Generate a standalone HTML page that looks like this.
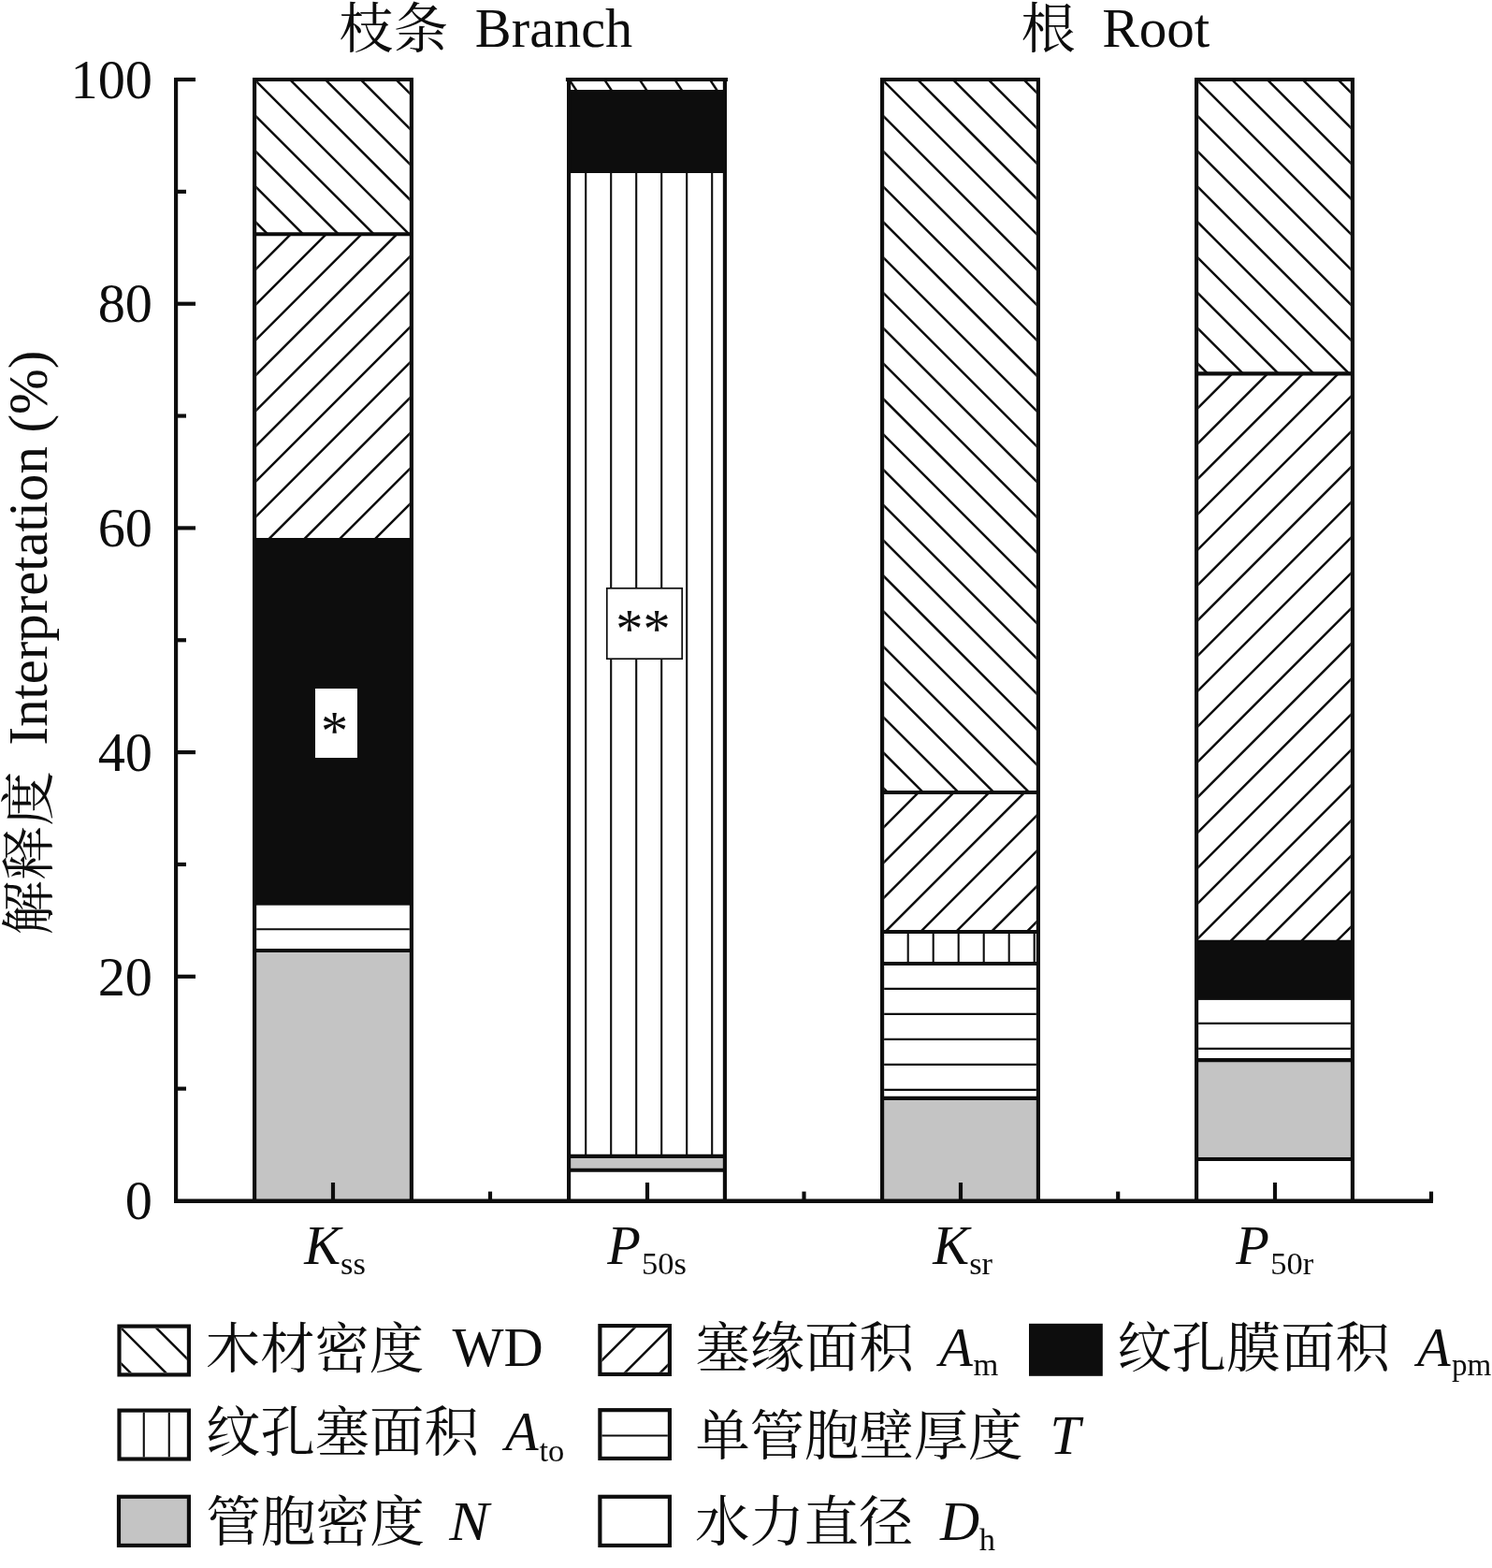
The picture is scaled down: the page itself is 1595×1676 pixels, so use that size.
<!DOCTYPE html>
<html lang="zh"><head><meta charset="utf-8"><title>Interpretation chart</title>
<style>
html,body{margin:0;padding:0;background:#fff;}
body{width:1595px;height:1676px;overflow:hidden;}
svg{display:block;will-change:transform;}
svg text{font-family:"Liberation Serif","Noto Serif CJK SC",serif;fill:#0d0d0d;white-space:pre;}
</style></head><body>
<svg width="1595" height="1676" viewBox="0 0 1595 1676">
<defs>
<clipPath id="c1"><rect x="274.17" y="85" width="163.66" height="165.25"/></clipPath>
<clipPath id="c2"><rect x="274.17" y="250.25" width="163.66" height="326.75"/></clipPath>
<clipPath id="c3"><rect x="274.17" y="967.6" width="163.66" height="48.4"/></clipPath>
<clipPath id="c4"><rect x="610.17" y="185" width="162.66" height="1050.8"/></clipPath>
<clipPath id="c5"><rect x="945.17" y="85" width="162.66" height="762"/></clipPath>
<clipPath id="c6"><rect x="945.17" y="847" width="162.66" height="149"/></clipPath>
<clipPath id="c7"><rect x="945.17" y="996" width="162.66" height="34"/></clipPath>
<clipPath id="c8"><rect x="945.17" y="1030" width="162.66" height="143.8"/></clipPath>
<clipPath id="c9"><rect x="1281.17" y="85" width="162.66" height="314.3"/></clipPath>
<clipPath id="c10"><rect x="1281.17" y="399.3" width="162.66" height="606.7"/></clipPath>
<clipPath id="c11"><rect x="1281.17" y="1068.9" width="162.66" height="64.2"/></clipPath>
<clipPath id="c12"><rect x="129.57" y="1419.67" width="70.26" height="47.66"/></clipPath>
<clipPath id="c13"><rect x="643.47" y="1419.17" width="70.36" height="47.66"/></clipPath>
<clipPath id="c14"><rect x="129.57" y="1509.67" width="70.26" height="47.76"/></clipPath>
<clipPath id="c15"><rect x="643.47" y="1509.27" width="70.36" height="47.56"/></clipPath>
</defs>
<rect width="1595" height="1676" fill="#fff"/>
<path clip-path="url(#c1)" d="M77.09 79L254.34 256.25M114.89 79L292.14 256.25M152.69 79L329.94 256.25M190.49 79L367.74 256.25M228.29 79L405.54 256.25M266.09 79L443.34 256.25M303.89 79L481.14 256.25M341.69 79L518.94 256.25M379.49 79L556.74 256.25M417.29 79L594.54 256.25M455.09 79L632.34 256.25" stroke="#0d0d0d" stroke-width="2.5" fill="none"/>
<path clip-path="url(#c2)" d="M279.15 244.25L-59.6 583M316.95 244.25L-21.8 583M354.75 244.25L16 583M392.55 244.25L53.8 583M430.35 244.25L91.6 583M468.15 244.25L129.4 583M505.95 244.25L167.2 583M543.75 244.25L205 583M581.55 244.25L242.8 583M619.35 244.25L280.6 583M657.15 244.25L318.4 583M694.95 244.25L356.2 583M732.75 244.25L394 583M770.55 244.25L431.8 583M808.35 244.25L469.6 583" stroke="#0d0d0d" stroke-width="2.5" fill="none"/>
<rect x="270" y="575" width="172" height="392.6" fill="#0d0d0d"/>
<path clip-path="url(#c3)" d="M272.17 966.2L439.83 966.2M272.17 993.2L439.83 993.2M272.17 1020.2L439.83 1020.2" stroke="#0d0d0d" stroke-width="2.1" fill="none"/>
<rect x="273.17" y="1016" width="165.66" height="267.5" fill="#c4c4c4"/>
<path d="M272.08 1283.5L272.08 85L439.92 85L439.92 1283.5" stroke="#0d0d0d" stroke-width="4.17" fill="none" stroke-linejoin="miter"/>
<path d="M270 250.25L442 250.25" stroke="#0d0d0d" stroke-width="4.17" stroke-linecap="butt" fill="none"/>
<path d="M270 1016L442 1016" stroke="#0d0d0d" stroke-width="4.17" stroke-linecap="butt" fill="none"/>
<rect x="337" y="736" width="45" height="74" fill="#fff"/>
<path d="M608.87 85.6L616.67 97.4" stroke="#0d0d0d" stroke-width="2.5" stroke-linecap="butt" fill="none"/>
<path d="M646.47 85.6L654.27 97.4" stroke="#0d0d0d" stroke-width="2.5" stroke-linecap="butt" fill="none"/>
<path d="M684.07 85.6L691.87 97.4" stroke="#0d0d0d" stroke-width="2.5" stroke-linecap="butt" fill="none"/>
<path d="M721.67 85.6L729.47 97.4" stroke="#0d0d0d" stroke-width="2.5" stroke-linecap="butt" fill="none"/>
<path d="M759.27 85.6L767.07 97.4" stroke="#0d0d0d" stroke-width="2.5" stroke-linecap="butt" fill="none"/>
<rect x="606" y="96" width="171" height="89" fill="#0d0d0d"/>
<path clip-path="url(#c4)" d="M599.2 183L599.2 1237.8M626.2 183L626.2 1237.8M653.2 183L653.2 1237.8M680.2 183L680.2 1237.8M707.2 183L707.2 1237.8M734.2 183L734.2 1237.8M761.2 183L761.2 1237.8M788.2 183L788.2 1237.8" stroke="#0d0d0d" stroke-width="2.1" fill="none"/>
<rect x="609.17" y="1235.8" width="164.66" height="14.95" fill="#c4c4c4"/>
<path d="M608.09 1283.5L608.09 85L774.91 85L774.91 1283.5" stroke="#0d0d0d" stroke-width="4.17" fill="none" stroke-linejoin="miter"/>
<path d="M606 1235.8L777 1235.8" stroke="#0d0d0d" stroke-width="4.17" stroke-linecap="butt" fill="none"/>
<path d="M606 1250.75L777 1250.75" stroke="#0d0d0d" stroke-width="4.17" stroke-linecap="butt" fill="none"/>
<path d="M604.9 85L778 85" stroke="#0d0d0d" stroke-width="4.17" stroke-linecap="butt" fill="none"/>
<rect x="648.8" y="628.8" width="80.4" height="75.4" fill="#fff" stroke="#0d0d0d" stroke-width="1.7"/>
<path clip-path="url(#c5)" d="M143.28 79L917.28 853M181.08 79L955.08 853M218.88 79L992.88 853M256.68 79L1030.68 853M294.49 79L1068.49 853M332.28 79L1106.28 853M370.08 79L1144.09 853M407.88 79L1181.88 853M445.68 79L1219.68 853M483.48 79L1257.48 853M521.28 79L1295.28 853M559.08 79L1333.09 853M596.88 79L1370.88 853M634.68 79L1408.68 853M672.48 79L1446.48 853M710.28 79L1484.28 853M748.08 79L1522.09 853M785.88 79L1559.88 853M823.68 79L1597.68 853M861.48 79L1635.48 853M899.28 79L1673.28 853M937.08 79L1711.09 853M974.88 79L1748.88 853M1012.68 79L1786.68 853M1050.48 79L1824.48 853M1088.28 79L1862.28 853M1126.09 79L1900.09 853" stroke="#0d0d0d" stroke-width="2.5" fill="none"/>
<path clip-path="url(#c6)" d="M950.1 841L789.1 1002M987.9 841L826.9 1002M1025.7 841L864.7 1002M1063.5 841L902.5 1002M1101.3 841L940.3 1002M1139.1 841L978.1 1002M1176.9 841L1015.9 1002M1214.7 841L1053.7 1002M1252.5 841L1091.5 1002M1290.3 841L1129.3 1002" stroke="#0d0d0d" stroke-width="2.5" fill="none"/>
<path clip-path="url(#c7)" d="M943.7 994L943.7 1032M970.7 994L970.7 1032M997.7 994L997.7 1032M1024.7 994L1024.7 1032M1051.7 994L1051.7 1032M1078.7 994L1078.7 1032M1105.7 994L1105.7 1032M1132.7 994L1132.7 1032" stroke="#0d0d0d" stroke-width="2.1" fill="none"/>
<path clip-path="url(#c8)" d="M943.17 1029.9L1109.83 1029.9M943.17 1056.9L1109.83 1056.9M943.17 1083.9L1109.83 1083.9M943.17 1110.9L1109.83 1110.9M943.17 1137.9L1109.83 1137.9M943.17 1164.9L1109.83 1164.9M943.17 1191.9L1109.83 1191.9" stroke="#0d0d0d" stroke-width="2.1" fill="none"/>
<rect x="944.17" y="1173.8" width="164.66" height="109.7" fill="#c4c4c4"/>
<path d="M943.09 1283.5L943.09 85L1109.91 85L1109.91 1283.5" stroke="#0d0d0d" stroke-width="4.17" fill="none" stroke-linejoin="miter"/>
<path d="M941 847L1112 847" stroke="#0d0d0d" stroke-width="4.17" stroke-linecap="butt" fill="none"/>
<path d="M941 996L1112 996" stroke="#0d0d0d" stroke-width="4.17" stroke-linecap="butt" fill="none"/>
<path d="M941 1030L1112 1030" stroke="#0d0d0d" stroke-width="4.17" stroke-linecap="butt" fill="none"/>
<path d="M941 1173.8L1112 1173.8" stroke="#0d0d0d" stroke-width="4.17" stroke-linecap="butt" fill="none"/>
<path clip-path="url(#c9)" d="M932.88 79L1259.18 405.3M970.69 79L1296.99 405.3M1008.49 79L1334.79 405.3M1046.29 79L1372.59 405.3M1084.09 79L1410.38 405.3M1121.88 79L1448.18 405.3M1159.68 79L1485.98 405.3M1197.49 79L1523.79 405.3M1235.29 79L1561.59 405.3M1273.09 79L1599.38 405.3M1310.88 79L1637.18 405.3M1348.68 79L1674.98 405.3M1386.49 79L1712.79 405.3M1424.29 79L1750.59 405.3M1462.09 79L1788.38 405.3" stroke="#0d0d0d" stroke-width="2.5" fill="none"/>
<path clip-path="url(#c10)" d="M1285.6 393.3L666.9 1012M1323.4 393.3L704.7 1012M1361.2 393.3L742.5 1012M1399 393.3L780.3 1012M1436.8 393.3L818.1 1012M1474.6 393.3L855.9 1012M1512.4 393.3L893.7 1012M1550.2 393.3L931.5 1012M1588 393.3L969.3 1012M1625.8 393.3L1007.1 1012M1663.6 393.3L1044.9 1012M1701.4 393.3L1082.7 1012M1739.2 393.3L1120.5 1012M1777 393.3L1158.3 1012M1814.8 393.3L1196.1 1012M1852.6 393.3L1233.9 1012M1890.4 393.3L1271.7 1012M1928.2 393.3L1309.5 1012M1966 393.3L1347.3 1012M2003.8 393.3L1385.1 1012M2041.6 393.3L1422.9 1012M2079.4 393.3L1460.7 1012" stroke="#0d0d0d" stroke-width="2.5" fill="none"/>
<rect x="1277" y="1004.75" width="171" height="64.15" fill="#0d0d0d"/>
<path clip-path="url(#c11)" d="M1279.17 1066.9L1445.83 1066.9M1279.17 1093.9L1445.83 1093.9M1279.17 1120.9L1445.83 1120.9M1279.17 1147.9L1445.83 1147.9" stroke="#0d0d0d" stroke-width="2.1" fill="none"/>
<rect x="1280.17" y="1133.1" width="164.66" height="105.9" fill="#c4c4c4"/>
<path d="M1279.09 1283.5L1279.09 85L1445.91 85L1445.91 1283.5" stroke="#0d0d0d" stroke-width="4.17" fill="none" stroke-linejoin="miter"/>
<path d="M1277 399.3L1448 399.3" stroke="#0d0d0d" stroke-width="4.17" stroke-linecap="butt" fill="none"/>
<path d="M1277 1133.1L1448 1133.1" stroke="#0d0d0d" stroke-width="4.17" stroke-linecap="butt" fill="none"/>
<path d="M1277 1239L1448 1239" stroke="#0d0d0d" stroke-width="4.17" stroke-linecap="butt" fill="none"/>
<path d="M188.1 82.92L188.1 1285.59" stroke="#0d0d0d" stroke-width="4.17" stroke-linecap="butt" fill="none"/>
<path d="M188.1 1163.65L199 1163.65" stroke="#0d0d0d" stroke-width="4.17" stroke-linecap="butt" fill="none"/>
<path d="M188.1 1043.8L209 1043.8" stroke="#0d0d0d" stroke-width="4.17" stroke-linecap="butt" fill="none"/>
<path d="M188.1 923.95L199 923.95" stroke="#0d0d0d" stroke-width="4.17" stroke-linecap="butt" fill="none"/>
<path d="M188.1 804.1L209 804.1" stroke="#0d0d0d" stroke-width="4.17" stroke-linecap="butt" fill="none"/>
<path d="M188.1 684.25L199 684.25" stroke="#0d0d0d" stroke-width="4.17" stroke-linecap="butt" fill="none"/>
<path d="M188.1 564.4L209 564.4" stroke="#0d0d0d" stroke-width="4.17" stroke-linecap="butt" fill="none"/>
<path d="M188.1 444.55L199 444.55" stroke="#0d0d0d" stroke-width="4.17" stroke-linecap="butt" fill="none"/>
<path d="M188.1 324.7L209 324.7" stroke="#0d0d0d" stroke-width="4.17" stroke-linecap="butt" fill="none"/>
<path d="M188.1 204.85L199 204.85" stroke="#0d0d0d" stroke-width="4.17" stroke-linecap="butt" fill="none"/>
<path d="M188.1 85L209 85" stroke="#0d0d0d" stroke-width="4.17" stroke-linecap="butt" fill="none"/>
<path d="M186.01 1283.7L1532 1283.7" stroke="#0d0d0d" stroke-width="4.57" stroke-linecap="butt" fill="none"/>
<path d="M356 1283.5L356 1264" stroke="#0d0d0d" stroke-width="4.17" stroke-linecap="butt" fill="none"/>
<path d="M692 1283.5L692 1264" stroke="#0d0d0d" stroke-width="4.17" stroke-linecap="butt" fill="none"/>
<path d="M1027 1283.5L1027 1264" stroke="#0d0d0d" stroke-width="4.17" stroke-linecap="butt" fill="none"/>
<path d="M1363 1283.5L1363 1264" stroke="#0d0d0d" stroke-width="4.17" stroke-linecap="butt" fill="none"/>
<path d="M524 1283.5L524 1273.6" stroke="#0d0d0d" stroke-width="4.17" stroke-linecap="butt" fill="none"/>
<path d="M859.5 1283.5L859.5 1273.6" stroke="#0d0d0d" stroke-width="4.17" stroke-linecap="butt" fill="none"/>
<path d="M1195.2 1283.5L1195.2 1273.6" stroke="#0d0d0d" stroke-width="4.17" stroke-linecap="butt" fill="none"/>
<path d="M1530 1283.5L1530 1273.6" stroke="#0d0d0d" stroke-width="4.17" stroke-linecap="butt" fill="none"/>
<path clip-path="url(#c12)" d="M47.97 1413.67L107.63 1473.33M85.77 1413.67L145.43 1473.33M123.57 1413.67L183.23 1473.33M161.37 1413.67L221.03 1473.33M199.17 1413.67L258.83 1473.33" stroke="#0d0d0d" stroke-width="2.5" fill="none"/>
<rect x="127.48" y="1417.59" width="74.43" height="51.83" fill="none" stroke="#0d0d0d" stroke-width="4.17"/>
<path clip-path="url(#c13)" d="M646.57 1413.17L586.91 1472.83M684.37 1413.17L624.71 1472.83M722.17 1413.17L662.51 1472.83M759.97 1413.17L700.31 1472.83M797.77 1413.17L738.11 1472.83" stroke="#0d0d0d" stroke-width="2.5" fill="none"/>
<rect x="641.38" y="1417.09" width="74.53" height="51.83" fill="none" stroke="#0d0d0d" stroke-width="4.17"/>
<rect x="1100" y="1414.8" width="78.8" height="56" fill="#0d0d0d"/>
<path clip-path="url(#c14)" d="M126.77 1507.67L126.77 1559.43M153.77 1507.67L153.77 1559.43M180.77 1507.67L180.77 1559.43M207.77 1507.67L207.77 1559.43" stroke="#0d0d0d" stroke-width="2.1" fill="none"/>
<rect x="127.48" y="1507.59" width="74.43" height="51.93" fill="none" stroke="#0d0d0d" stroke-width="4.17"/>
<path clip-path="url(#c15)" d="M641.47 1507.57L715.83 1507.57M641.47 1534.57L715.83 1534.57M641.47 1561.57L715.83 1561.57" stroke="#0d0d0d" stroke-width="2.1" fill="none"/>
<rect x="641.38" y="1507.18" width="74.53" height="51.73" fill="none" stroke="#0d0d0d" stroke-width="4.17"/>
<rect x="126.98" y="1599.79" width="74.93" height="52.13" fill="#c4c4c4"/>
<rect x="126.98" y="1599.79" width="74.93" height="52.13" fill="none" stroke="#0d0d0d" stroke-width="4.17"/>
<rect x="641.38" y="1599.79" width="74.53" height="52.13" fill="none" stroke="#0d0d0d" stroke-width="4.17"/>
<text x="362.3" y="51.4" text-anchor="start" style="font-size:58.33px;">枝条</text>
<text x="507.8" y="50" text-anchor="start" style="font-size:58.33px;">Branch</text>
<text x="1091.5" y="51.4" text-anchor="start" style="font-size:58.33px;">根</text>
<text transform="translate(1178.2 50) scale(1.015 1)" text-anchor="start" style="font-size:58.33px;">Root</text>
<text x="163" y="1303.2" text-anchor="end" style="font-size:58.33px;">0</text>
<text x="163" y="1063.5" text-anchor="end" style="font-size:58.33px;">20</text>
<text x="163" y="823.8" text-anchor="end" style="font-size:58.33px;">40</text>
<text x="163" y="584.1" text-anchor="end" style="font-size:58.33px;">60</text>
<text x="163" y="344.4" text-anchor="end" style="font-size:58.33px;">80</text>
<text x="163" y="104.7" text-anchor="end" style="font-size:58.33px;">100</text>
<text transform="translate(51.2 999.4) rotate(-90)" text-anchor="start" style="font-size:58.33px;">解释度</text>
<text transform="translate(50.4 796.4) rotate(-90) scale(1.0055 1)" text-anchor="start" style="font-size:58.33px;">Interpretation (%)</text>
<text x="325.3" y="1350.75" text-anchor="start" style="font-size:58.33px;font-style:italic;">K</text>
<text x="364" y="1362" text-anchor="start" style="font-size:34.5px;">ss</text>
<text x="649.2" y="1350.75" text-anchor="start" style="font-size:58.33px;font-style:italic;">P</text>
<text x="686" y="1362" text-anchor="start" style="font-size:34.5px;">50s</text>
<text x="997.2" y="1350.75" text-anchor="start" style="font-size:58.33px;font-style:italic;">K</text>
<text x="1036.2" y="1362" text-anchor="start" style="font-size:34.5px;">sr</text>
<text x="1321.2" y="1350.75" text-anchor="start" style="font-size:58.33px;font-style:italic;">P</text>
<text x="1358.2" y="1362" text-anchor="start" style="font-size:34.5px;">50r</text>
<text x="357.5" y="801" text-anchor="middle" style="font-size:58.33px;">*</text>
<text x="687.5" y="692" text-anchor="middle" style="font-size:58.33px;">**</text>
<text x="219.8" y="1461.6" text-anchor="start" style="font-size:58.33px;">木材密度</text>
<text x="483.5" y="1460.2" text-anchor="start" style="font-size:58.33px;">WD</text>
<text x="743.4" y="1461.2" text-anchor="start" style="font-size:58.33px;">塞缘面积</text>
<text x="1004.3" y="1459.7" text-anchor="start" style="font-size:58.33px;font-style:italic;">A</text>
<text x="1040.5" y="1470.2" text-anchor="start" style="font-size:34.5px;">m</text>
<text x="1194.2" y="1461.2" text-anchor="start" style="font-size:58.33px;">纹孔膜面积</text>
<text x="1515" y="1459.7" text-anchor="start" style="font-size:58.33px;font-style:italic;">A</text>
<text transform="translate(1551.9 1470) scale(0.96 1)" text-anchor="start" style="font-size:34.5px;">pm</text>
<text x="220.1" y="1551.3" text-anchor="start" style="font-size:58.33px;">纹孔塞面积</text>
<text x="539.9" y="1549.9" text-anchor="start" style="font-size:58.33px;font-style:italic;">A</text>
<text x="576.4" y="1561.7" text-anchor="start" style="font-size:34.5px;">to</text>
<text x="743.4" y="1555.4" text-anchor="start" style="font-size:58.33px;">单管胞壁厚度</text>
<text x="1122.5" y="1554" text-anchor="start" style="font-size:58.33px;font-style:italic;">T</text>
<text x="220.6" y="1647.4" text-anchor="start" style="font-size:58.33px;">管胞密度</text>
<text transform="translate(480.3 1646) scale(1.09 1)" text-anchor="start" style="font-size:58.33px;font-style:italic;">N</text>
<text x="743.1" y="1647.4" text-anchor="start" style="font-size:58.33px;">水力直径</text>
<text x="1005" y="1646" text-anchor="start" style="font-size:58.33px;font-style:italic;">D</text>
<text x="1046.7" y="1657.1" text-anchor="start" style="font-size:34.5px;">h</text>
</svg>
</body></html>
